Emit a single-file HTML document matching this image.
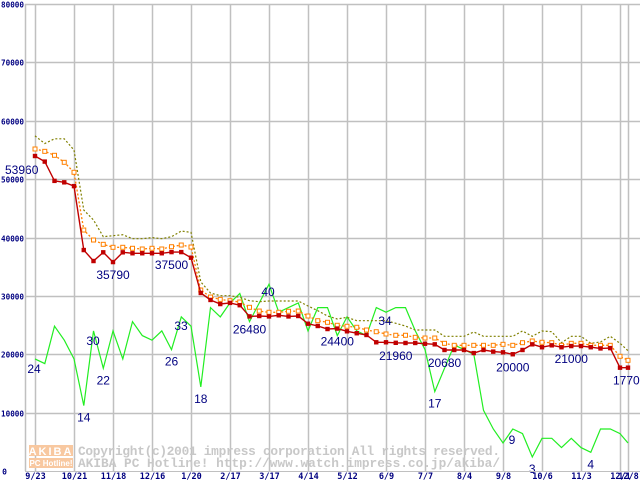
<!DOCTYPE html>
<html><head><meta charset="utf-8"><style>
html,body{margin:0;padding:0;background:#fff;}
svg{display:block;}
</style></head><body>
<svg id="chart" width="640" height="480" viewBox="0 0 640 480" xmlns="http://www.w3.org/2000/svg" font-family="'Liberation Sans', 'DejaVu Sans', sans-serif">
<g id="grid"></g>
<g id="watermark">
  <rect x="29" y="445" width="44" height="11" fill="#f8c8a0"/>
  <text x="51" y="455" font-size="11" font-weight="bold" fill="#fff" text-anchor="middle" letter-spacing="2">AKIBA</text>
  <rect x="29" y="458" width="44" height="10" fill="#f8c8a0"/>
  <text x="51" y="466" font-size="8" font-weight="bold" fill="#fff" text-anchor="middle">PC Hotline!</text>
  <text x="78" y="455" font-family="'Liberation Mono', monospace" font-size="12.8" font-weight="bold" fill="#c8c8c8" textLength="422">Copyright(c)2001 impress corporation All rights reserved.</text>
  <text x="78" y="467" font-family="'Liberation Mono', monospace" font-size="12.8" font-weight="bold" fill="#c8c8c8" textLength="422">AKIBA PC Hotline!  http://www.watch.impress.co.jp/akiba/</text>
</g>
<g id="series"></g>
<g id="labels"></g>
<g id="axes"></g>
</svg>
<script>
const yTicks = [0,10000,20000,30000,40000,50000,60000,70000,80000];
const xTickLabels = ["9/23","10/21","11/18","12/16","1/20","2/17","3/17","4/14","5/12","6/9","7/7","8/4","9/8","10/6","11/3","12/1","12/8"];
const xTickIndex = [0,4,8,12,16,20,24,28,32,36,40,44,48,52,56,60,61];
const minPrice = [53960,53000,49700,49450,48800,37850,35970,37460,35790,37460,37300,37300,37300,37300,37500,37500,36540,30500,29300,28600,28800,28400,26480,26550,26480,26670,26480,26550,25230,24840,24320,24400,23930,23600,23300,22050,22050,21960,21930,21930,21800,21700,20730,20730,20730,20200,20730,20450,20330,20000,20730,21700,21200,21530,21200,21400,21400,21200,21000,21050,17700,17700];
const avgPrice = [55160,54760,54080,52880,51170,41280,39570,38830,38320,38320,38150,38030,38150,38030,38420,38710,38370,31000,29800,29400,29170,28950,28040,27400,27190,27190,27360,27400,26550,25750,25470,24960,24790,24620,24150,23860,23470,23250,23250,22900,22780,22780,21870,21530,21530,21530,21530,21530,21700,21530,21980,22270,22050,21980,21530,21870,21870,21530,21530,21530,19650,18960];
const maxPrice = [57400,56100,56900,56900,54980,44700,43000,40140,40310,40480,39800,39800,39980,39800,40140,41110,40880,32400,30500,30030,30030,29750,29170,29000,29120,29120,29120,29120,28260,27460,26550,26040,26330,25750,25750,25750,25750,25300,24840,24150,24150,24150,23070,23070,23070,23810,23070,23070,23070,23070,23980,23070,23980,23860,21980,23070,23070,21870,22100,23070,21870,20600];
const shopCount = [24,23,31,28,24,14,30,22,30,24,32,29,28,30,26,33,31,18,35,33,36,38,32,36,40,34,35,36,30,35,35,29,33,30,29,35,34,35,35,30,26,17,22,27,26,25,13,9,6,9,8,3,7,7,5,7,5,4,9,9,8,6];
const priceLabelIdx = [0,8,14,22,31,37,42,49,55,60];
const priceLabelText = ["53960","35790","37500","26480","24400","21960","20680","20000","21000","17700"];
const countLabelIdx = [0,6,5,7,14,15,17,24,36,41,49,51,57];
const COUNT_SCALE = 800;

const NS = "http://www.w3.org/2000/svg";
const X0 = 35, STEP = 9.75, Y0 = 471, YTOP = 4, YMAX = 80000;
function xPos(i){ return i >= 61 ? 628 : X0 + i*STEP; }
function yPos(v){ return Y0 - v*(Y0-YTOP)/YMAX; }
function mk(tag, attrs, parent){ const e=document.createElementNS(NS,tag); for(const k in attrs) e.setAttribute(k, attrs[k]); parent.appendChild(e); return e; }
const grid=document.getElementById('grid'), series=document.getElementById('series'), labels=document.getElementById('labels'), axes=document.getElementById('axes');

yTicks.forEach(function(v){
  const y=Math.round(yPos(v))+0.5;
  if(v>0){
    const l=mk('line',{x1:25,x2:640,y1:y,y2:y,stroke:'#c0c0c0','stroke-width':1.5},grid);
    
    
  }
  const attrs={x:v===0?7:24,y:y+3,'font-size':8,'font-weight':'bold',fill:'#000080','text-anchor':'end','font-family':"'DejaVu Sans Mono', monospace"};
  if(v>0){ attrs.textLength=23; attrs.lengthAdjust='spacingAndGlyphs'; }
  const t=mk('text',attrs,axes);
  t.textContent=String(v);
  
  
});
xTickIndex.forEach(function(i,k){
  const x=Math.round(xPos(i))+0.5;
  const l=mk('line',{x1:x,x2:x,y1:YTOP,y2:Y0,stroke:'#c0c0c0','stroke-width':1.5},grid);
  
  
  const t=mk('text',{x:x,y:479,'font-size':8.5,'font-weight':'bold',fill:'#000080','text-anchor':'middle','font-family':"'DejaVu Sans Mono', monospace"},axes);
  t.textContent=xTickLabels[k];
  
  
});
const yAxis=mk('line',{x1:25.5,x2:25.5,y1:YTOP,y2:Y0,stroke:'#c0c0c0','stroke-width':1.5},axes);


const xAxis=mk('line',{x1:25,x2:640,y1:Y0+0.5,y2:Y0+0.5,stroke:'#c0c0c0','stroke-width':1},axes);



function pts(arr,scale){ return arr.map(function(v,i){ return xPos(i).toFixed(1)+','+yPos(v*(scale||1)).toFixed(1); }).join(' '); }

const gLine=mk('polyline',{points:pts(shopCount,COUNT_SCALE),fill:'none',stroke:'#22ee22','stroke-width':1.2},series);


const mxLine=mk('polyline',{points:pts(maxPrice),fill:'none',stroke:'#808000','stroke-width':1.2,'stroke-dasharray':'2,2'},series);


const avLine=mk('polyline',{points:pts(avgPrice),fill:'none',stroke:'#ff8000','stroke-width':1.3,'stroke-dasharray':'2,2'},series);


avgPrice.forEach(function(v,i){
  const r=mk('rect',{x:xPos(i)-2,y:yPos(v)-2,width:4,height:4,fill:'#fff',stroke:'#ff8000','stroke-width':1},series);
  
  
});
const mnLine=mk('polyline',{points:pts(minPrice),fill:'none',stroke:'#c00000','stroke-width':1.4},series);


minPrice.forEach(function(v,i){
  const r=mk('rect',{x:xPos(i)-2.2,y:yPos(v)-2.2,width:4.4,height:4.4,fill:'#c00000'},series);
  
  
});

priceLabelIdx.forEach(function(i,k){
  let x=xPos(i), anchor='middle';
  if(i===0){ x=5; anchor='start'; }
  if(i===60){ x=613; anchor='start'; }
  const t=mk('text',{x:x,y:yPos(minPrice[i])+(i===0?18:17),'font-size':12,fill:'#000080','text-anchor':anchor},labels);
  t.textContent=priceLabelText[k];
  
  
});
countLabelIdx.forEach(function(i){
  const v=shopCount[i];
  let x=xPos(i), y=yPos(v*COUNT_SCALE)+16;
  if(i===0){ x=34; y=yPos(v*COUNT_SCALE)+14; }
  if(i===6){ x=93; y=yPos(v*COUNT_SCALE)+14; }
  if(i===15){ x=181; y=yPos(v*COUNT_SCALE)+13; }
  if(i===24){ x=268; y=yPos(v*COUNT_SCALE)+12; }
  if(i===36){ x=385; y=yPos(v*COUNT_SCALE)+13; }
  if(i===49){ x=512; y=yPos(v*COUNT_SCALE)+15; }
  const t=mk('text',{x:x,y:y,'font-size':12,fill:'#000080','text-anchor':'middle'},labels);
  t.textContent=String(v);
  
  
});
</script>
</body></html>
